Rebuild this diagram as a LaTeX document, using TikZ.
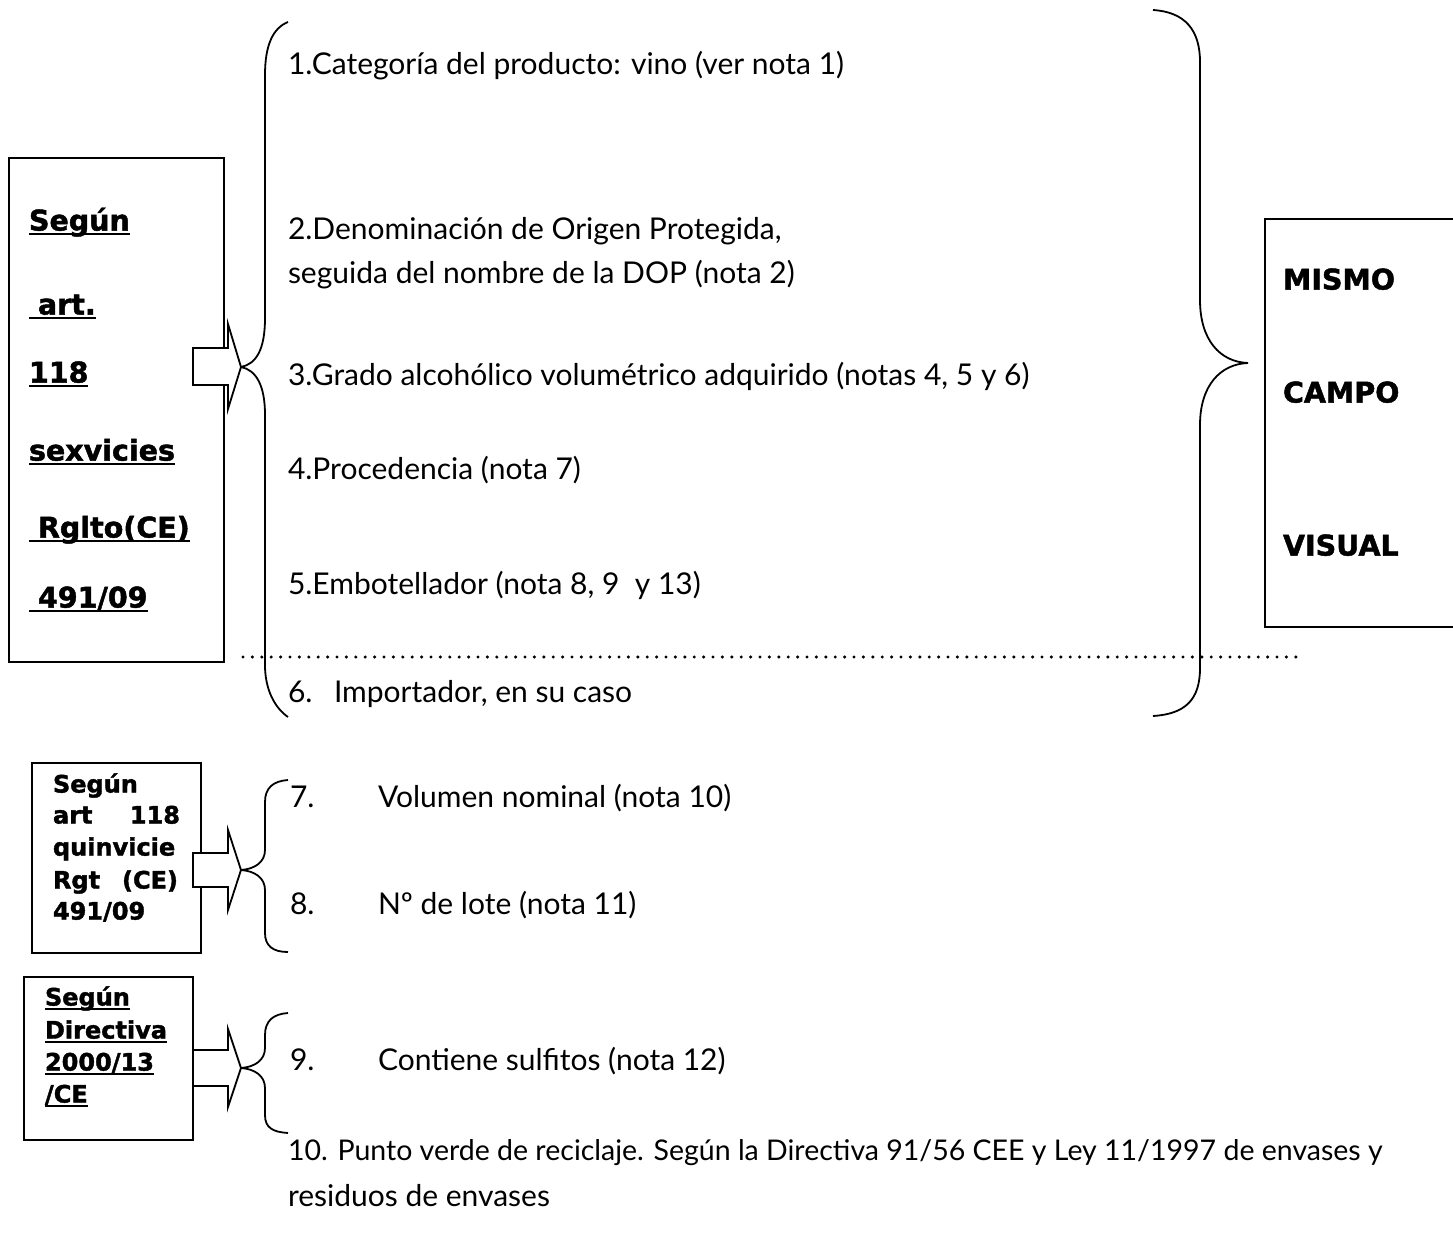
\documentclass[tikz,border=0pt]{standalone}
\usepackage{fontspec}
\setmainfont{Lato}
\newfontfamily\heavy{DejaVu Sans}[BoldFeatures={FakeBold=1.6}]
\newcommand\myul[1]{\sbox0{#1}\rlap{\rule[-4.5pt]{\wd0}{2.2pt}}\usebox0}
\begin{document}
\begin{tikzpicture}[x=1pt,y=-1pt,
  every node/.style={inner sep=0pt, outer sep=0pt},
  txt/.style={anchor=mid west, font=\fontsize{30}{34}\selectfont},
  btxt/.style={anchor=mid west, font=\fontsize{28.5}{34}\selectfont\heavy\bfseries},
  stxt/.style={anchor=mid west, font=\fontsize{24}{28}\selectfont\heavy\bfseries},
  frame/.style={draw, line width=1.8pt, anchor=north west},
  brace/.style={draw, line width=1.8pt},
  blockarrow/.style={draw, fill=white, line width=1.8pt, line join=miter},
  dotline/.style={line width=3.4pt, dash pattern=on 0pt off 9.4pt, line cap=round}]
\useasboundingbox (0,0) rectangle (1453,1236);
\fill[white] (0,0) rectangle (1453,1236);

% ---------- boxes ----------
\node[frame, minimum width=215pt, minimum height=504pt] (b1) at (9,158) {};
\node[frame, minimum width=169pt, minimum height=190pt] (b2) at (32,763) {};
\node[frame, minimum width=169pt, minimum height=163pt] (b3) at (24,977) {};
\node[frame, minimum width=215pt, minimum height=408pt] (b4) at (1265,219) {};

% ---------- brace tips ----------
\coordinate (tip1) at (241,367);
\coordinate (tip2) at (241,870);
\coordinate (tip3) at (241,1068);
\coordinate (tip4) at (1248,363);

% ---------- braces ----------
\draw[brace] (288,22) .. controls (273,28) and (265,45) .. (265,75) -- (265,318)
  .. controls (265,350) and (256,364) .. (tip1)
  .. controls (256,370) and (265,385) .. (265,415) -- (265,665)
  .. controls (265,690) and (275,708) .. (288,717);
\draw[brace] (1153,10) .. controls (1185,12) and (1200,30) .. (1200,62) -- (1200,300)
  .. controls (1200,340) and (1220,362) .. (tip4)
  .. controls (1220,364) and (1200,386) .. (1200,425) -- (1200,668)
  .. controls (1200,700) and (1185,714) .. (1153,716);
\draw[brace] (288,780) .. controls (273,781) and (265,788) .. (265,802) -- (265,850)
  .. controls (265,862) and (255,869) .. (tip2)
  .. controls (255,871) and (265,878) .. (265,890) -- (265,933)
  .. controls (265,946) and (273,952) .. (288,952);
\draw[brace] (288,1013) .. controls (273,1014) and (265,1021) .. (265,1035) -- (265,1048)
  .. controls (265,1060) and (255,1067) .. (tip3)
  .. controls (255,1069) and (265,1076) .. (265,1088) -- (265,1115)
  .. controls (265,1128) and (273,1132) .. (288,1133);

% ---------- block arrows ----------
\begin{scope}[shift={(tip1)}]
\draw[blockarrow] (-48,-19) -- (-13,-19) -- (-13,-43) -- (0,0) -- (-13,42) -- (-13,18) -- (-48,18) -- cycle;
\end{scope}
\begin{scope}[shift={(tip2)}]
\draw[blockarrow] (-48,-17) -- (-13,-17) -- (-13,-40) -- (0,0) -- (-13,40) -- (-13,17) -- (-48,17) -- cycle;
\end{scope}
\begin{scope}[shift={(tip3)}]
\draw[blockarrow] (-48,-18) -- (-13,-18) -- (-13,-39) -- (0,0) -- (-13,39) -- (-13,18) -- (-48,18) -- cycle;
\end{scope}

% ---------- dotted separator ----------
\draw[dotline] (243,657) -- (1300,657);

% ---------- box 1 text ----------
\node[btxt] (s1) at (29,228) {\myul{Según}};
\node[btxt] (s2) at (29,312) {\myul{\hspace*{9pt}art.}};
\node[btxt] (s3) at (29,380) {\myul{118}};
\node[btxt] (s4) at (29,458) {\myul{sexvicies}};
\node[btxt] (s5) at (29,535) {\myul{\hspace*{9pt}Rglto(CE)}};
\node[btxt] (s6) at (29,605) {\myul{\hspace*{9pt}491/09}};

% ---------- box 2 text ----------
\node[stxt] (q1) at (53,790) {Según};
\node[stxt] (q2) at (53,821) {\makebox[127pt][s]{art\hfill 118}};
\node[stxt] (q3) at (53,853) {quinvicie};
\node[stxt] (q4) at (53,886) {\makebox[125pt][s]{Rgt\hfill (CE)}};
\node[stxt] (q5) at (53,917) {491/09};

% ---------- box 3 text ----------
\node[stxt] (d1) at (45,1003) {\myul{Según}};
\node[stxt] (d2) at (45,1036) {\myul{Directiva}};
\node[stxt] (d3) at (45,1068) {\myul{2000/13}};
\node[stxt] (d4) at (45,1100) {\myul{/CE}};

% ---------- right box text ----------
\node[btxt] (m1) at (1283,287) {MISMO};
\node[btxt] (m2) at (1283,400) {CAMPO};
\node[btxt] (m3) at (1283,553) {VISUAL};

% ---------- list text ----------
\node[txt] (l1) at (288,72) {1.Categoría del producto: vino (ver nota 1)};
\node[txt] (l2a) at (288,237) {2.Denominación de Origen Protegida,};
\node[txt] (l2b) at (288,281) {seguida del nombre de la DOP (nota 2)};
\node[txt] (l3) at (288,383) {3.Grado alcohólico volumétrico adquirido (notas 4, 5 y 6)};
\node[txt] (l4) at (288,477) {4.Procedencia (nota 7)};
\node[txt] (l5) at (288,592) {5.Embotellador (nota 8, 9\ \ y 13)};
\node[txt] (l6n) at (288,700) {6.};
\node[txt] (l6) at (334,700) {Importador, en su caso};
\node[txt] (l7n) at (290,805) {7.};
\node[txt] (l7) at (378,805) {Volumen nominal (nota 10)};
\node[txt] (l8n) at (290,912) {8.};
\node[txt] (l8) at (378,912) {Nº de lote (nota 11)};
\node[txt] (l9n) at (290,1068) {9.};
\node[txt] (l9) at (378,1068) {Contiene sulfitos (nota 12)};
\node[txt, font=\fontsize{28.5}{34}\selectfont] (l10a) at (288,1158) {10. Punto verde de reciclaje. Según la Directiva 91/56 CEE y Ley 11/1997 de envases y};
\node[txt] (l10b) at (288,1204) {residuos de envases};
\end{tikzpicture}
\end{document}
